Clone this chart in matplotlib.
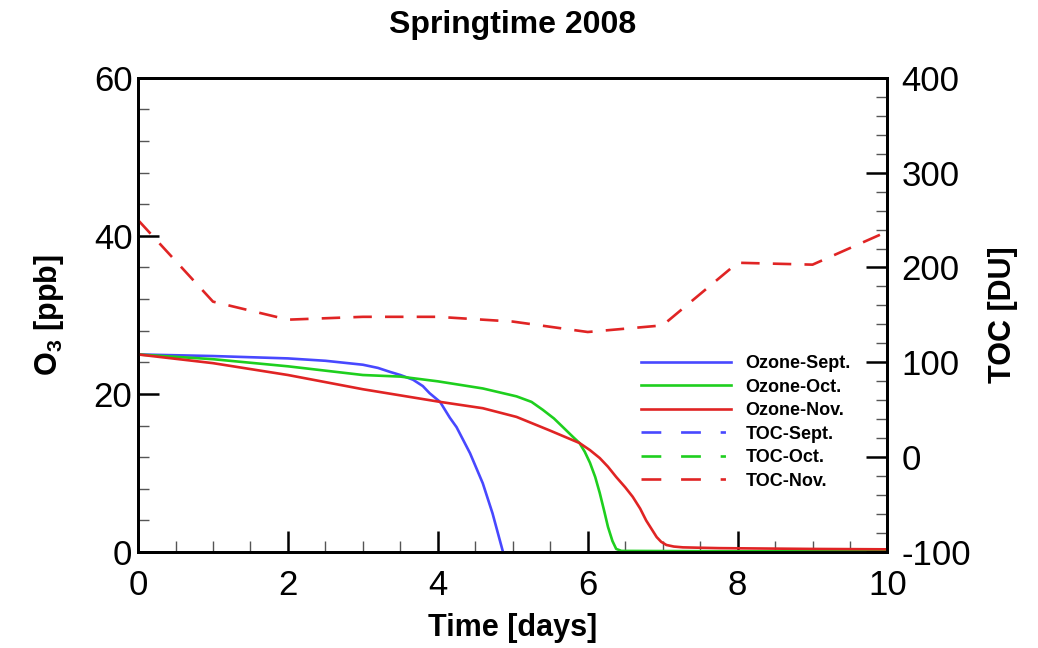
import matplotlib
matplotlib.use('Agg')
from matplotlib import pyplot as plt
from matplotlib.lines import Line2D
from matplotlib.ticker import MultipleLocator

plt.rcParams['font.family'] = ['Liberation Sans', 'DejaVu Sans']
plt.rcParams['mathtext.fontset'] = 'custom'
plt.rcParams['mathtext.rm'] = 'Liberation Sans'
plt.rcParams['mathtext.bf'] = 'Liberation Sans:bold'
plt.rcParams['axes.unicode_minus'] = False

# ozone (ppb)
sept_days = [0, 1, 2, 2.5, 3, 3.2, 3.36, 3.5, 3.67, 3.8, 3.89, 4.03, 4.16, 4.25,
             4.43, 4.6, 4.73, 4.87]
sept_o3 = [25.0, 24.8, 24.5, 24.2, 23.7, 23.3, 22.8, 22.4, 21.8, 21.0, 20.1, 19.0,
           17.0, 15.8, 12.5, 8.7, 4.9, 0.0]

oct_days = [0, 1, 2, 3, 3.5, 4, 4.6, 5.05, 5.25, 5.4, 5.55, 5.67, 5.8, 5.89, 5.96,
            6.03, 6.1, 6.16, 6.22, 6.27, 6.33, 6.38, 6.45, 8, 10]
oct_o3 = [25.0, 24.4, 23.5, 22.4, 22.2, 21.6, 20.7, 19.7, 19.0, 18.0, 16.9, 15.8,
          14.6, 13.8, 12.7, 11.3, 9.5, 7.5, 5.2, 3.2, 1.4, 0.4, 0.15, 0.1, 0.1]

nov_days = [0, 1, 2, 3, 4.03, 4.6, 5.05, 5.49, 5.89, 6.03, 6.16, 6.27, 6.38, 6.5,
            6.6, 6.7, 6.78, 6.86, 6.92, 6.98, 7.05, 7.15, 7.27, 7.5, 7.76, 9, 10]
nov_o3 = [25.0, 23.9, 22.4, 20.6, 19.0, 18.2, 17.1, 15.4, 13.8, 12.9, 11.9, 10.8,
          9.5, 8.2, 7.0, 5.5, 4.0, 2.8, 1.9, 1.3, 0.9, 0.7, 0.6, 0.55, 0.5, 0.4, 0.35]

# total ozone column (DU), only Nov is drawn
toc_days = [0, 1, 2, 3, 4, 5, 6, 7, 8, 9, 10]
toc_nov = [250, 164, 145, 148, 148, 143, 132, 139, 205, 203, 238]

labels = ['Ozone-Sept.', 'Ozone-Oct.', 'Ozone-Nov.', 'TOC-Sept.', 'TOC-Oct.', 'TOC-Nov.']

blue = '#4848ff'
green = '#1ecf1e'
red = '#e02424'

fig = plt.figure(figsize=(10.38, 6.48), dpi=100)
ax = fig.add_axes([0.133, 0.148, 0.722, 0.732])
ax2 = ax.twinx()

ax.plot(sept_days, sept_o3, color=blue, lw=1.9, zorder=3)
ax.plot(oct_days, oct_o3, color=green, lw=1.9, zorder=3)
ax.plot(nov_days, nov_o3, color=red, lw=1.9, zorder=4)
ax2.plot(toc_days, toc_nov, color=red, lw=1.9, dashes=(7, 5))

ax.set_xlim(0, 10)
ax.set_ylim(0, 60)
ax2.set_ylim(-100, 400)

ax.xaxis.set_major_locator(MultipleLocator(2))
ax.xaxis.set_minor_locator(MultipleLocator(0.5))
ax.yaxis.set_major_locator(MultipleLocator(20))
ax.yaxis.set_minor_locator(MultipleLocator(4))
ax2.yaxis.set_major_locator(MultipleLocator(100))
ax2.yaxis.set_minor_locator(MultipleLocator(20))

ax.tick_params(axis='x', which='both', direction='in', labelsize=25, pad=12, top=False)
ax.tick_params(axis='y', which='both', direction='in', labelsize=25, pad=4, right=False)
ax2.tick_params(axis='y', which='both', direction='in', labelsize=25, pad=10)
for a in (ax, ax2):
    a.tick_params(which='major', length=15, width=1.8)
    a.tick_params(which='minor', length=8, width=1.0, color='#555555')
    for s in a.spines.values():
        s.set_linewidth(2)

ax.set_xlabel('Time [days]', fontsize=22, fontweight='bold', labelpad=8)
ax.set_ylabel(r'$\mathbf{O_3}$ [ppb]', fontsize=22, fontweight='bold', labelpad=20)
ax2.set_ylabel('TOC [DU]', fontsize=22, fontweight='bold', labelpad=12)
ax.set_title('Springtime 2008', fontsize=23, fontweight='bold', pad=32)

# legend: TOC entries drawn with the dash-dash-dot pattern of the original
solid = dict(lw=1.9)
dashdot = dict(lw=1.9, dashes=(7.5, 7.5, 7.5, 7.5, 2, 10))
handles = [Line2D([], [], color=blue, **solid),
           Line2D([], [], color=green, **solid),
           Line2D([], [], color=red, **solid),
           Line2D([], [], color=blue, **dashdot),
           Line2D([], [], color=green, **dashdot),
           Line2D([], [], color=red, **dashdot)]
fig.legend(handles, labels, loc='upper left', bbox_to_anchor=(632 / 1038, 1 - 346 / 648),
           frameon=False, borderpad=0, prop={'weight': 'bold', 'size': 13},
           handlelength=5.0, handletextpad=0.8, labelspacing=0.36)

fig.savefig('out.png', dpi=100)
